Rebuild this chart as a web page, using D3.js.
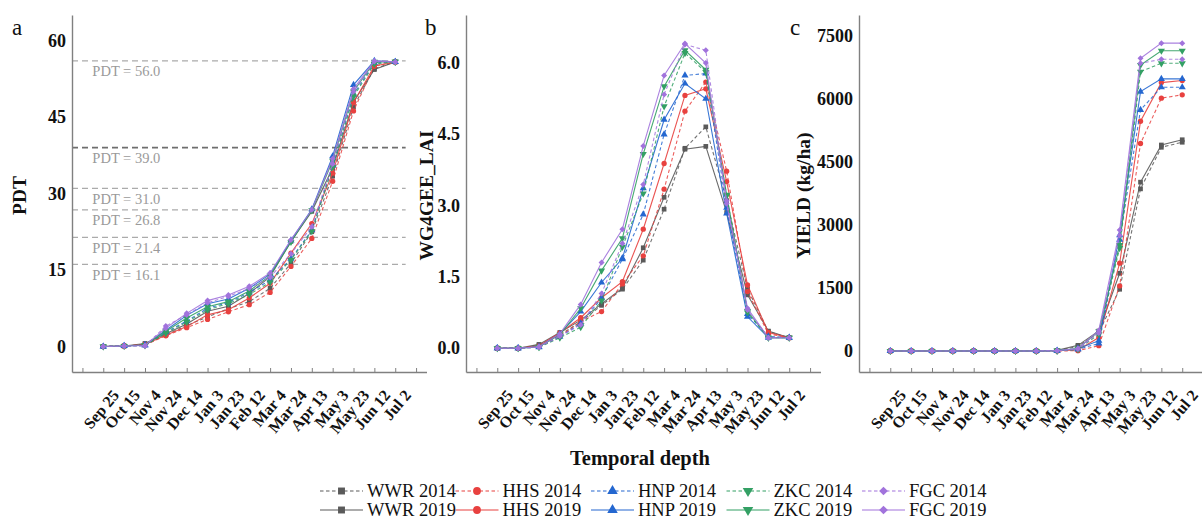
<!DOCTYPE html>
<html><head><meta charset="utf-8">
<script src="https://cdn.jsdelivr.net/npm/d3@7"></script>
<style>
body{margin:0;background:#fff;}
text{font-family:"Liberation Serif","Times New Roman",serif;}
</style></head>
<body>
<script>
// ---------- DATA ----------
const categories = ["Sep 25","Oct 15","Nov 4","Nov 24","Dec 14","Jan 3","Jan 23","Feb 12","Mar 4","Mar 24","Apr 13","May 3","May 23","Jun 12","Jul 2"];
const sites = ["WWR","HHS","HNP","ZKC","FGC"];
const years = ["2014","2019"];
const pdtThresholds = [56.0, 39.0, 31.0, 26.8, 21.4, 16.1];

// Panel a: PDT
const pdtWWR2014 = [0,0.1,0.4,2.3,4.1,5.8,7.4,8.8,11.4,16.3,22.5,33.4,47.0,54.5,55.8];
const pdtWWR2019 = [0,0.1,0.6,2.5,4.4,6.9,7.9,10.4,13.7,20.6,26.5,35.0,48.0,54.3,55.8];
const pdtHHS2014 = [0,0.1,0.3,2.1,3.7,5.3,6.8,8.2,10.6,15.7,21.2,32.4,46.2,55.0,55.8];
const pdtHHS2019 = [0,0.1,0.4,2.2,3.9,6.2,7.2,9.5,12.4,18.3,24.1,34.0,47.8,55.0,55.8];
const pdtHNP2014 = [0,0.1,0.2,2.8,5.0,7.5,8.6,10.6,13.0,17.2,22.8,35.5,49.4,55.6,55.8];
const pdtHNP2019 = [0,0.1,0.3,3.2,6.1,8.4,9.3,11.4,14.2,20.8,26.9,37.3,51.3,56.0,55.8];
const pdtZKC2014 = [0,0.1,0.2,2.6,4.8,7.2,8.4,10.2,12.6,17.0,22.6,35.2,49.0,55.4,55.8];
const pdtZKC2019 = [0,0.1,0.3,3.0,5.6,7.8,8.8,10.9,13.9,20.5,26.7,36.4,50.0,55.8,55.8];
const pdtFGC2014 = [0,0.1,0.1,4.0,6.2,8.6,9.8,11.4,13.6,18.2,23.5,35.8,50.0,55.9,55.8];
const pdtFGC2019 = [0,0.1,0.2,3.6,6.5,9.0,10.1,11.8,14.4,20.9,26.8,36.8,50.5,56.0,55.8];

// Panel b: WG4GEE_LAI
const laiWWR2014 = [0,0,0.06,0.28,0.55,0.90,1.24,1.85,2.92,4.20,4.65,3.10,1.25,0.35,0.22];
const laiWWR2019 = [0,0,0.08,0.33,0.59,0.93,1.26,2.11,3.17,4.18,4.24,2.85,1.12,0.36,0.22];
const laiHHS2014 = [0,0,0.03,0.25,0.56,0.77,1.35,1.94,3.34,4.98,5.59,3.72,1.19,0.30,0.22];
const laiHHS2019 = [0,0,0.05,0.32,0.64,1.06,1.40,2.50,3.88,5.31,5.45,3.50,1.33,0.33,0.22];
const laiHNP2014 = [0,0,0.02,0.24,0.52,1.05,1.87,2.81,4.49,5.73,5.77,2.95,0.72,0.25,0.22];
const laiHNP2019 = [0,0,0.03,0.30,0.77,1.38,1.89,3.36,4.80,5.56,5.24,2.83,0.66,0.22,0.22];
const laiZKC2014 = [0,0,0.02,0.22,0.44,1.00,2.13,3.25,5.08,6.20,5.80,3.20,0.75,0.22,0.22];
const laiZKC2019 = [0,0,0.03,0.28,0.84,1.63,2.31,4.08,5.50,6.26,5.85,3.22,0.78,0.22,0.22];
const laiFGC2014 = [0,0,0.02,0.25,0.49,1.15,2.20,3.44,5.33,6.38,6.26,3.10,0.80,0.22,0.22];
const laiFGC2019 = [0,0,0.03,0.30,0.92,1.80,2.50,4.25,5.73,6.40,5.99,3.04,0.84,0.22,0.22];

// Panel c: YIELD (kg/ha)
const yldWWR2014 = [0,0,0,0,0,0,0,0,10,110,440,1470,3860,4850,4970];
const yldWWR2019 = [0,0,0,0,0,0,0,0,15,135,476,1850,4020,4905,5030];
const yldHHS2014 = [0,0,0,0,0,0,0,0,0,8,127,1550,4940,6020,6100];
const yldHHS2019 = [0,0,0,0,0,0,0,0,5,24,320,2090,5470,6390,6440];
const yldHNP2014 = [0,0,0,0,0,0,0,0,5,40,180,2650,5740,6280,6280];
const yldHNP2019 = [0,0,0,0,0,0,0,0,10,55,246,2760,6175,6480,6480];
const yldZKC2014 = [0,0,0,0,0,0,0,0,5,40,400,2450,6650,6850,6850];
const yldZKC2019 = [0,0,0,0,0,0,0,0,10,60,470,2520,6810,7150,7150];
const yldFGC2014 = [0,0,0,0,0,0,0,0,5,45,430,2750,6850,6945,6945];
const yldFGC2019 = [0,0,0,0,0,0,0,0,10,60,490,2880,6970,7330,7330];

const pdtTicks = [0,15,30,45,60];
const laiTicks = [0,1.5,3,4.5,6];
const yldTicks = [0,1500,3000,4500,6000,7500];

// ---------- STYLE ----------
const siteColors = {WWR:"#5a5a5a", HHS:"#e8413f", HNP:"#2467d0", ZKC:"#33a064", FGC:"#a173dc"};
const siteSymbols = {WWR:d3.symbolSquare, HHS:d3.symbolCircle, HNP:d3.symbolTriangle, ZKC:d3.symbolTriangle, FGC:d3.symbolSquare};
const siteRotate = {WWR:0, HHS:0, HNP:0, ZKC:180, FGC:45};

const seriesFor = (pre) => {
  const tbl = {pdt:{WWR2014:pdtWWR2014,WWR2019:pdtWWR2019,HHS2014:pdtHHS2014,HHS2019:pdtHHS2019,HNP2014:pdtHNP2014,HNP2019:pdtHNP2019,ZKC2014:pdtZKC2014,ZKC2019:pdtZKC2019,FGC2014:pdtFGC2014,FGC2019:pdtFGC2019},
    lai:{WWR2014:laiWWR2014,WWR2019:laiWWR2019,HHS2014:laiHHS2014,HHS2019:laiHHS2019,HNP2014:laiHNP2014,HNP2019:laiHNP2019,ZKC2014:laiZKC2014,ZKC2019:laiZKC2019,FGC2014:laiFGC2014,FGC2019:laiFGC2019},
    yld:{WWR2014:yldWWR2014,WWR2019:yldWWR2019,HHS2014:yldHHS2014,HHS2019:yldHHS2019,HNP2014:yldHNP2014,HNP2019:yldHNP2019,ZKC2014:yldZKC2014,ZKC2019:yldZKC2019,FGC2014:yldFGC2014,FGC2019:yldFGC2019}}[pre];
  const out = [];
  sites.forEach(s => years.forEach(yr => out.push({site:s, year:yr, values:tbl[s+yr]})));
  return out;
};

const W = 1202, H = 519;
const svg = d3.select("body").append("svg").attr("width", W).attr("height", H);

const plotTop = 15, plotBottom = 372, plotW = 354.5;
const panels = [
  {letter:"a", x0:72, key:"pdt", domain:[-5,65], ticks:pdtTicks, fmt:d3.format("d"), title:"PDT", titleX:19, letterX:12},
  {letter:"b", x0:466, key:"lai", domain:[-0.5,7.0], ticks:laiTicks, fmt:d3.format(".1f"), title:"WG4GEE_LAI", titleX:426, letterX:425},
  {letter:"c", x0:859, key:"yld", domain:[-500,8000], ticks:yldTicks, fmt:d3.format("d"), title:"YIELD (kg/ha)", titleX:803, letterX:790}
];

panels.forEach(p => {
  const x = d3.scaleLinear().domain([-1.5, 15.5]).range([p.x0, p.x0 + plotW]);
  const y = d3.scaleLinear().domain(p.domain).range([plotBottom, plotTop]);
  const g = svg.append("g");

  if (p.key === "pdt") {
    pdtThresholds.forEach(t => {
      const strong = t === 39.0;
      g.append("line").attr("x1", x(-1.5)).attr("x2", x(14.5))
        .attr("y1", y(t)).attr("y2", y(t))
        .attr("stroke", strong ? "#6e6e6e" : "#ababab")
        .attr("stroke-width", strong ? 1.7 : 1.2)
        .attr("stroke-dasharray", "6,4");
      g.append("text").attr("x", x(-0.5) - 0.5).attr("y", y(t) + 15.5)
        .attr("fill", "#9a9a9a").attr("font-size", 14.5)
        .text("PDT = " + t.toFixed(1));
    });
  }

  const xa = g.append("g").attr("transform", `translate(0,${plotBottom})`)
    .call(d3.axisBottom(x).tickValues(d3.range(-1, 16)).tickSize(-4).tickSizeOuter(0)
      .tickFormat(i => categories[i] || ""));
  xa.select(".domain").attr("stroke", "#808080").attr("stroke-width", 1.4);
  xa.selectAll(".tick line").attr("stroke", "#808080").attr("stroke-width", 1);
  xa.selectAll(".tick text")
    .attr("font-family", '"Liberation Serif","Times New Roman",serif')
    .attr("font-size", 16).attr("font-weight", "bold").attr("fill", "#111")
    .attr("text-anchor", "end")
    .attr("transform", "translate(7,16) rotate(-50)")
    .attr("x", 0).attr("y", 0).attr("dy", "0.75em");

  const ya = g.append("g").attr("transform", `translate(${p.x0},0)`)
    .call(d3.axisLeft(y).tickValues(p.ticks).tickSize(0).tickSizeOuter(0).tickPadding(6).tickFormat(p.fmt));
  ya.select(".domain").attr("stroke", "#808080").attr("stroke-width", 1.4);
  ya.selectAll(".tick text")
    .attr("font-family", '"Liberation Serif","Times New Roman",serif')
    .attr("font-size", 18).attr("font-weight", "bold").attr("fill", "#111");

  g.append("text").attr("transform", `translate(${p.titleX},${(plotTop + plotBottom) / 2 + 2}) rotate(-90)`)
    .attr("text-anchor", "middle").attr("dominant-baseline", "central")
    .attr("font-size", 19.5).attr("font-weight", "bold").attr("fill", "#111").text(p.title);

  g.append("text").attr("x", p.letterX).attr("y", 35).attr("font-size", 23).attr("fill", "#111").text(p.letter);

  const line = d3.line().x((d, i) => x(i)).y(d => y(d));
  seriesFor(p.key).forEach(s => {
    const col = siteColors[s.site];
    g.append("path").datum(s.values).attr("d", line)
      .attr("fill", "none").attr("stroke", col)
      .attr("stroke-width", 1.1).attr("stroke-opacity", s.year === "2014" ? 0.85 : 0.9)
      .attr("stroke-dasharray", s.year === "2014" ? "3.5,2.5" : null);
    const sym = d3.symbol().type(siteSymbols[s.site]).size(s.site === "FGC" ? 18 : 22);
    g.selectAll(null).data(s.values).enter().append("path")
      .attr("d", sym)
      .attr("transform", (d, i) => `translate(${x(i)},${y(d)}) rotate(${siteRotate[s.site]})`)
      .attr("fill", col);
  });
});

svg.append("text").attr("x", 640).attr("y", 465).attr("text-anchor", "middle")
  .attr("font-size", 20.5).attr("font-weight", "bold").attr("fill", "#111").text("Temporal depth");

const legStartX = 320, legPitch = 135.5, lineLen = 43;
years.forEach((yr, r) => {
  const cy = r === 0 ? 491 : 510;
  sites.forEach((s, k) => {
    const lx = legStartX + k * legPitch;
    const col = siteColors[s];
    svg.append("line").attr("x1", lx).attr("x2", lx + lineLen).attr("y1", cy).attr("y2", cy)
      .attr("stroke", col).attr("stroke-width", 1.2)
      .attr("stroke-dasharray", yr === "2014" ? "3.5,2.5" : null);
    svg.append("path").attr("d", d3.symbol().type(siteSymbols[s]).size(s === "FGC" ? 38 : 48)())
      .attr("transform", `translate(${lx + lineLen / 2},${cy}) rotate(${siteRotate[s]})`)
      .attr("fill", col);
    svg.append("text").attr("x", lx + lineLen + 4).attr("y", cy).attr("dy", "0.35em")
      .attr("font-size", 18.5).attr("fill", "#111").text(s + " " + yr);
  });
});
</script>
</body></html>
